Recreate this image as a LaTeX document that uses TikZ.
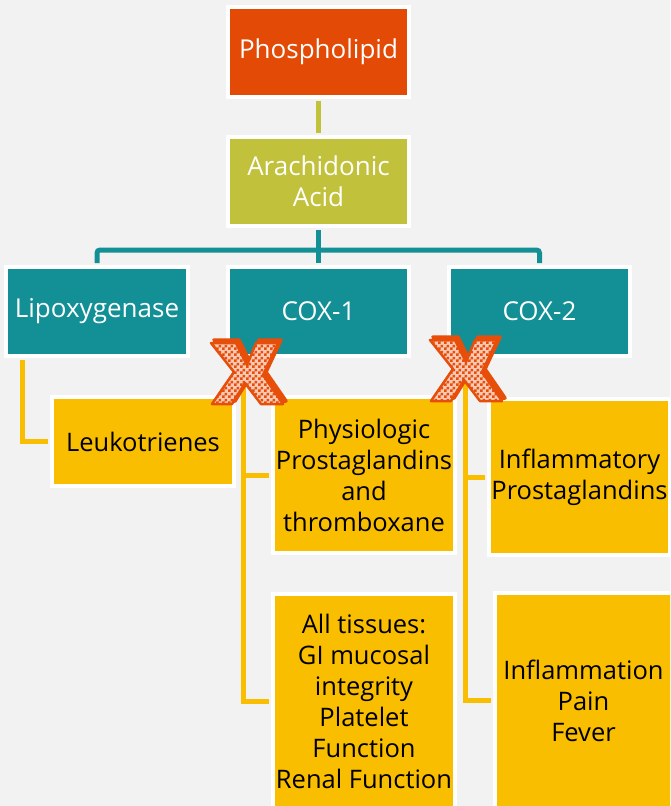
\documentclass[tikz,border=0pt]{standalone}
\usepackage{fontspec}
\setmainfont{Open Sans}
\usepackage{tikz}
\usetikzlibrary{patterns}

\definecolor{bggray}{RGB}{242,242,242}
\definecolor{phosred}{RGB}{227,74,5}
\definecolor{acidgreen}{RGB}{193,193,59}
\definecolor{enzteal}{RGB}{19,143,150}
\definecolor{prodyellow}{RGB}{249,190,0}
\definecolor{xred}{RGB}{230,78,10}

% small checks for the crosses
\pgfdeclarepatternformonly{finechecks}{\pgfpointorigin}{\pgfqpoint{6pt}{6pt}}%
    {\pgfqpoint{6pt}{6pt}}{%
    \pgfpathrectangle{\pgfpointorigin}{\pgfqpoint{3pt}{3pt}}%
    \pgfpathrectangle{\pgfqpoint{3pt}{3pt}}{\pgfqpoint{3pt}{3pt}}%
    \pgfusepath{fill}}

\begin{document}
\begin{tikzpicture}[x=1pt, y=-1pt,
    box/.style={draw=white, line width=4pt, inner sep=2pt, align=center},
    topbox/.style={box, text=white, minimum width=181pt, minimum height=89pt,
        font=\fontsize{26}{31}\selectfont},
    prodbox/.style={box, fill=prodyellow, text=black, minimum width=182pt,
        font=\fontsize{25.5}{31}\selectfont},
    link/.style={line width=5pt, shorten <=2pt, shorten >=2pt},
    xmark/.pic={
        \filldraw[xred, line width=3.5pt, line join=round, shift={(3,-3)}]
            (-36,-30) -- (-11,-30) -- (0,-8) -- (9,-30) -- (31,-30) -- (16,2)
            -- (36,31) -- (14,31) -- (-2,10) -- (-15,31) -- (-35,31) -- (-13,-1) -- cycle;
        \draw[xred, line width=2.5pt, line join=round, preaction={fill=xred!30!white},
            pattern=finechecks, pattern color=xred]
            (-36,-30) -- (-11,-30) -- (0,-8) -- (9,-30) -- (31,-30) -- (16,2)
            -- (36,31) -- (14,31) -- (-2,10) -- (-15,31) -- (-35,31) -- (-13,-1) -- cycle;
    }]
    \useasboundingbox (0,0) rectangle (670,806);
    \clip (0,0) rectangle (670,806);
    \fill[bggray] (0,0) rectangle (670,806);

    % top of the chain
    \node[topbox, fill=phosred, minimum height=90pt] (phos) at (318.5,52) {Phospholipid};
    \node[topbox, fill=acidgreen] (arach) at (318.5,181.5) {Arachidonic\\Acid};

    % enzymes
    \node[topbox, fill=enzteal, minimum width=182pt] (lipo) at (97,311.5) {Lipoxygenase};
    \node[topbox, fill=enzteal] (cox1) at (318.5,311.5) {COX-1};
    \node[topbox, fill=enzteal] (cox2) at (539.5,311.5) {COX-2};

    % products
    \node[prodbox, minimum height=89pt] (leuko) at (143,441.5) {Leukotrienes};
    \node[prodbox, minimum height=156pt] (physio) at (364,475)
        {Physiologic\\Prostaglandins\\and\\thromboxane};
    \node[prodbox, minimum height=214pt] (tissues) at (364,701)
        {All tissues:\\GI mucosal\\integrity\\Platelet\\Function\\Renal Function};
    \node[prodbox, minimum width=181pt, minimum height=156pt] (inflamP) at (579.5,477)
        {Inflammatory\\Prostaglandins};
    \node[prodbox, minimum width=177pt, minimum height=215pt] (inflam) at (583.5,700.5)
        {Inflammation\\Pain\\Fever};

    \draw[link, acidgreen] (phos.south) -- (arach.north);

    \coordinate (bus) at (318.5,250);
    \draw[link, enzteal, shorten >=0pt] (arach.south) -- (bus);
    \draw[link, enzteal, rounded corners=3pt] (lipo.north) |- (bus) -| (cox2.north);
    \draw[link, enzteal, shorten <=0pt] (bus) -- (cox1.north);

    \draw[link, prodyellow] ([xshift=18pt]lipo.south west) |- (leuko.west);
    \draw[link, prodyellow] ([xshift=17pt]cox1.south west) |- (physio.west);
    \draw[link, prodyellow] ([xshift=17pt]cox1.south west) |- (tissues.west);
    \draw[link, prodyellow] ([xshift=18pt]cox2.south west) |- (inflamP.west);
    \draw[link, prodyellow] ([xshift=18pt]cox2.south west) |- (inflam.west);

    % blocked pathways
    \pic at (247,373) {xmark};
    \pic at (466,370) {xmark};
\end{tikzpicture}
\end{document}
